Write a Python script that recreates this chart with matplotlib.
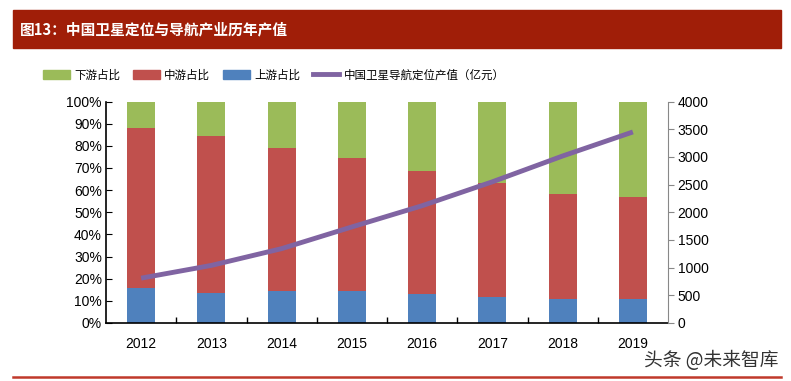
import matplotlib.pyplot as plt
import matplotlib.patches as mpatches
from matplotlib.lines import Line2D
import numpy as np

plt.rcParams['font.family'] = ['Liberation Sans', 'Noto Sans CJK SC', 'DejaVu Sans']

years = ['2012', '2013', '2014', '2015', '2016', '2017', '2018', '2019']
upstream = [15.7, 13.7, 14.5, 14.5, 13.0, 11.6, 10.8, 10.8]
midstream = [72.5, 70.9, 64.6, 60.1, 55.4, 51.8, 47.6, 46.2]
downstream = [100 - u - m for u, m in zip(upstream, midstream)]
output_value = [810, 1040, 1343, 1735, 2118, 2550, 3016, 3450]

green = '#9BBB59'
red = '#C0504D'
blue = '#4F81BD'
purple = '#8064A2'
cjk = ['Noto Sans CJK SC', 'DejaVu Sans']

fig = plt.figure(figsize=(7.91, 3.81), dpi=100)

# title band
fig.patches.append(mpatches.Rectangle((13 / 791, 1 - 48 / 381), 768 / 791, 38 / 381,
                                      transform=fig.transFigure, color='#A01E08', zorder=0))
fig.text(20 / 791, 1 - 29 / 381, '图13：中国卫星定位与导航产业历年产值', color='white',
         fontsize=10.6, fontweight='bold', family=cjk, va='center', ha='left')
# bottom rule
fig.add_artist(Line2D([13 / 791, 781 / 791], [1 - 377 / 381, 1 - 377 / 381],
                      transform=fig.transFigure, color='#C0392B', lw=1.8))
fig.text(779 / 791, 1 - 360 / 381, '头条 @未来智库', color='#333333', fontsize=13.5,
         family=cjk, va='center', ha='right')

ax = fig.add_axes([106 / 791, 1 - 323 / 381, 562 / 791, 221.5 / 381])
x = np.arange(len(years))
w = 0.4
ax.bar(x, upstream, w, color=blue, label='上游占比', zorder=2)
ax.bar(x, midstream, w, bottom=upstream, color=red, label='中游占比', zorder=2)
bottom2 = [u + m for u, m in zip(upstream, midstream)]
ax.bar(x, downstream, w, bottom=bottom2, color=green, label='下游占比', zorder=2)

ax.set_xlim(-0.5, len(years) - 0.5)
ax.set_ylim(0, 100)
ax.set_yticks(np.arange(0, 101, 10))
ax.set_yticklabels([f'{v}%' for v in range(0, 101, 10)])
ax.set_xticks(x)
ax.set_xticklabels(years)
ax.set_xticks(np.arange(0.5, len(years) - 0.5, 1), minor=True)
ax.tick_params(axis='x', which='major', length=0, labelsize=10, pad=10)
ax.tick_params(axis='x', which='minor', direction='in', length=4, width=1)
ax.tick_params(axis='y', direction='in', length=4, labelsize=10, pad=3)
for s in ['top', 'right']:
    ax.spines[s].set_visible(False)
ax.spines['left'].set_linewidth(1.2)
ax.spines['bottom'].set_linewidth(1.2)

ax2 = ax.twinx()
ax2.plot(x, output_value, color=purple, lw=3.5, solid_capstyle='butt', zorder=3)
ax2.set_ylim(0, 4000)
ax2.set_yticks(np.arange(0, 4001, 500))
ax2.tick_params(axis='y', direction='out', length=4, labelsize=10, pad=3, color='#888888')
for s in ['top', 'left', 'bottom']:
    ax2.spines[s].set_visible(False)
ax2.spines['right'].set_color('#888888')

handles = [mpatches.Patch(color=green), mpatches.Patch(color=red), mpatches.Patch(color=blue),
           Line2D([0], [0], color=purple, lw=3.5)]
labels = ['下游占比', '中游占比', '上游占比', '中国卫星导航定位产值（亿元）']
fig.legend(handles, labels, loc='center left', bbox_to_anchor=(33 / 791, 1 - 75 / 381), ncol=4,
           frameon=False, prop={'family': cjk, 'size': 8.3}, handlelength=2.3,
           handleheight=0.8, columnspacing=1.1, handletextpad=0.4)

fig.savefig('out.png', dpi=100)
